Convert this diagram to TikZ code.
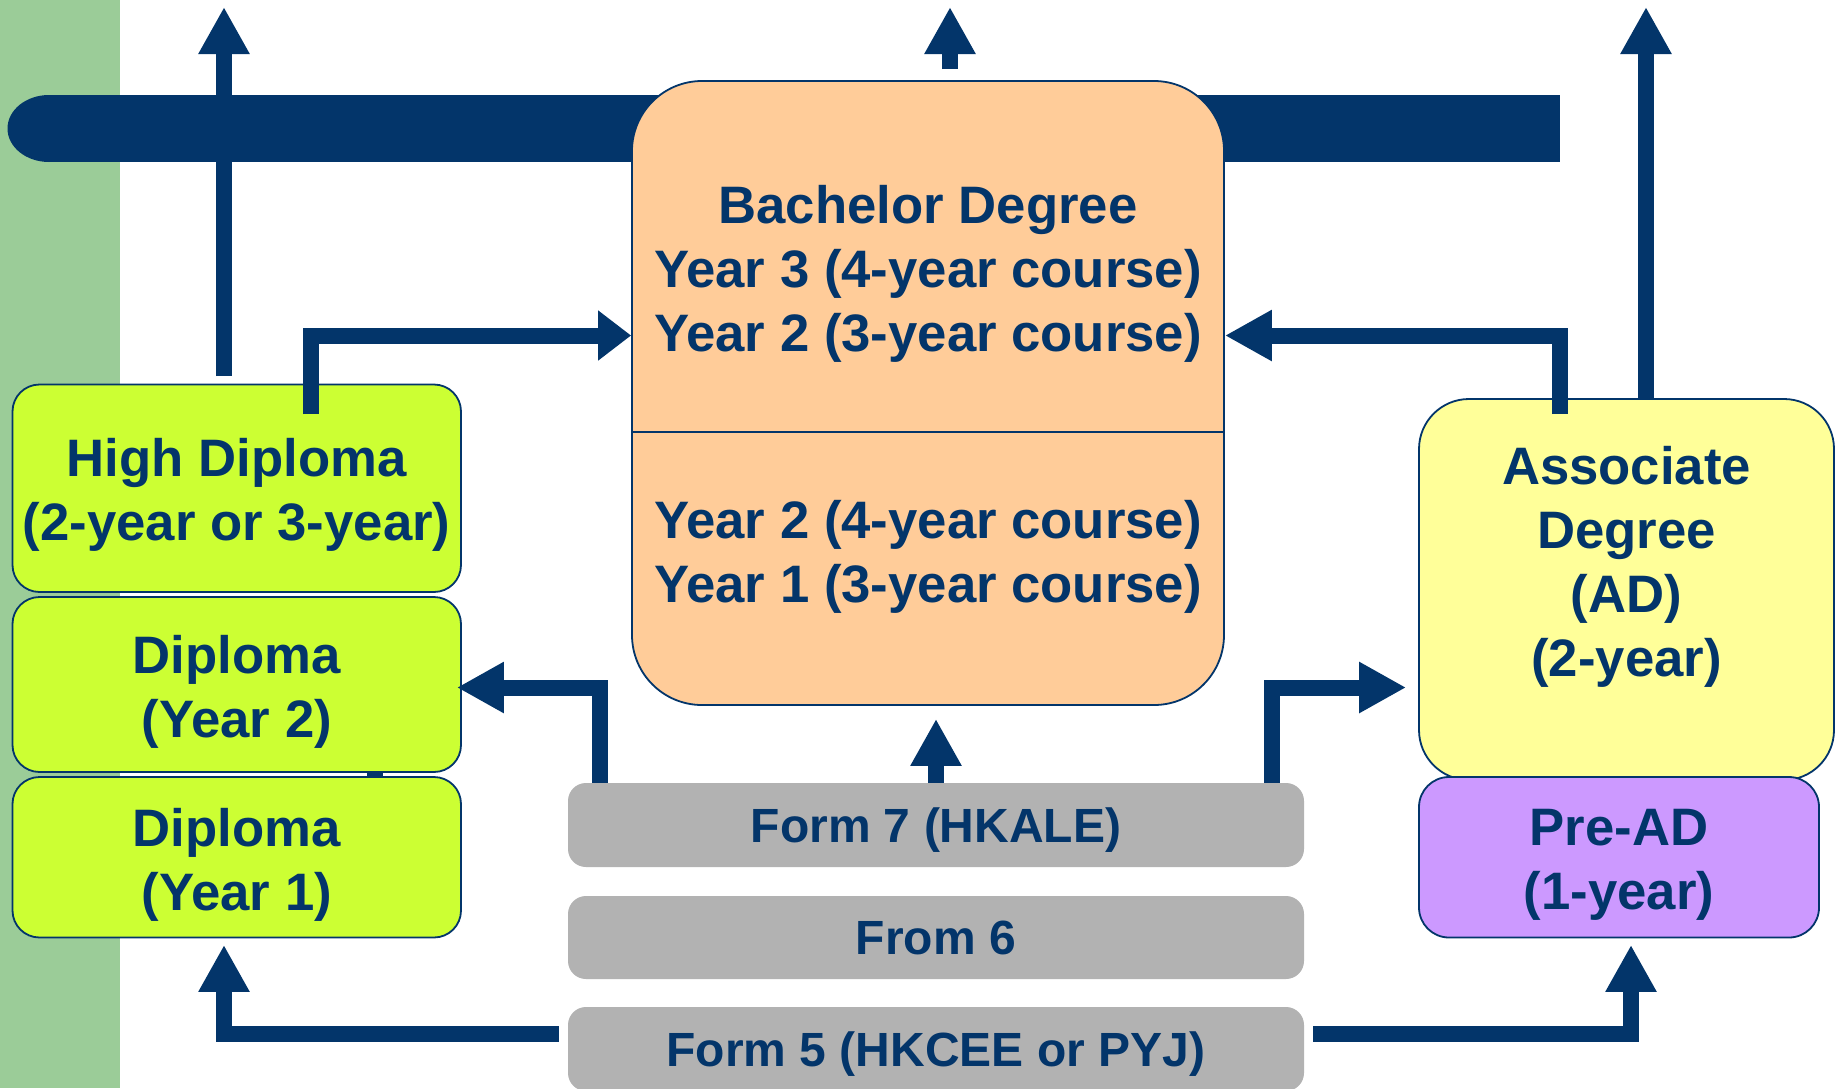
\documentclass[tikz,border=0pt]{standalone}
\usepackage{fontspec}
\setmainfont{Liberation Sans}
\usetikzlibrary{arrows.meta,calc}
\definecolor{navy}{HTML}{03356A}
\definecolor{stripgreen}{HTML}{9BCC98}
\definecolor{limefill}{HTML}{CCFF33}
\definecolor{peach}{HTML}{FFCC99}
\definecolor{paleyellow}{HTML}{FFFF99}
\definecolor{lilac}{HTML}{CC99FF}
\definecolor{greybox}{HTML}{B2B2B2}
\begin{document}
\begin{tikzpicture}[x=1pt,y=-1pt,
  box/.style={draw=navy,line width=1.8pt,rounded corners=27pt,inner sep=0pt},
  greyb/.style={fill=greybox,rounded corners=18pt,inner sep=0pt,minimum width=736pt},
  txt/.style={text=navy,font=\fontsize{52.7}{64}\selectfont\bfseries,align=center,inner sep=0pt},
  ftxt/.style={text=navy,font=\fontsize{48}{58}\selectfont\bfseries,align=center,inner sep=0pt},
  conn/.style={draw=navy,line width=16pt,line join=miter},
  arr/.style={-{Triangle[width=48pt,length=47pt]}},
  arrshort/.style={-{Triangle[width=48pt,length=33pt]}}
]
\useasboundingbox (0,0) rectangle (1836,1088);
\fill[white] (0,0) rectangle (1836,1088);
\fill[stripgreen] (0,0) rectangle (120,1088);
% top bar
\fill[navy] (49,95) rectangle (1560,162);
\fill[navy] (49,128.5) ellipse [x radius=41.5pt, y radius=33.5pt];

% boxes
\node[box,fill=peach,rounded corners=70pt,minimum width=592pt,minimum height=624pt] (bach) at (928,393) {};
\coordinate (div) at (928,432);
\draw[navy,line width=1.8pt] (bach.west |- div) -- (bach.east |- div);

\node[box,fill=limefill,minimum width=448.5pt,minimum height=207.5pt] (hd) at (236.75,488.25) {};
\node[box,fill=limefill,minimum width=448.5pt,minimum height=175pt] (dtwo) at (236.75,684.5) {};
\node[box,fill=limefill,minimum width=448.5pt,minimum height=160.5pt] (done) at (236.75,857.25) {};
\node[box,fill=paleyellow,rounded corners=50pt,minimum width=415pt,minimum height=381pt] (ad) at (1626.5,589.5) {};
\node[box,fill=lilac,rounded corners=30pt,minimum width=400pt,minimum height=160.5pt] (pread) at (1619,857.25) {};

\node[greyb,minimum height=84pt] (fseven) at (936,825) {};
\node[greyb,minimum height=83pt] (fsix) at (936,937.5) {};
\node[greyb,minimum height=84pt] (ffive) at (936,1049) {};

% texts
\node[txt] (bacht) at ($(bach.center)+(0,-119)$) {Bachelor Degree\\Year 3 (4-year course)\\Year 2 (3-year course)};
\node[txt] (bachb) at ($(bach.center)+(0,164)$) {Year 2 (4-year course)\\Year 1 (3-year course)};
\node[txt] (hdt) at ($(hd.center)+(0,7)$) {High Diploma\\(2-year or 3-year)};
\node[txt] (dtwot) at ($(dtwo.center)+(0,7)$) {Diploma\\(Year 2)};
\node[txt] (donet) at ($(done.center)+(0,7.5)$) {Diploma\\(Year 1)};
\node[txt] (adt) at ($(ad.center)+(0,-22.7)$) {Associate\\Degree\\(AD)\\(2-year)};
\node[txt] (preadt) at ($(pread.center)+(0,7.5)$) {Pre-AD\\(1-year)};
\node[ftxt] (fsevent) at ($(fseven.center)+(0,5.5)$) {Form 7 (HKALE)};
\node[ftxt] (fsixt) at (fsix.center) {From 6};
\node[ftxt] (ffivet) at ($(ffive.center)+(0,5.5)$) {Form 5 (HKCEE or PYJ)};

% connectors
\coordinate (topL) at (224,7);
\coordinate (topM) at (950,7);
\coordinate (topR) at (1646,7);
\draw[conn,arr] ($(hd.north -| topL)+(0,-7.5)$) -- (topL);
\draw[conn,arr] ($(bach.north -| topM)+(0,-11)$) -- (topM);
\draw[conn,arr] (ad.north -| topR) -- (topR);
\draw[conn,arrshort] ($(hd.north)+(74.6,30.5)$) |- ($(bach.west)+(0,-57.5)$);
\draw[conn,arr] ($(ad.north)+(-66.5,16)$) |- ($(bach.east)+(0,-57.5)$);
\draw[conn,arr] (fseven.north) -- ($(fseven.north |- bach.south)+(0,13)$);
\draw[conn,arr] ($(fseven.north west)+(32,0)$) |- ($(dtwo.east)+(-5,3)$);
\draw[conn,arr] ($(fseven.north east)+(-32.5,0)$) |- ($(ad.west)+(-12,98)$);
\draw[conn,arr] ($(ffive.west)+(-9,-15)$) -| ($(done.south)+(-12.75,6.5)$);
\draw[conn,arr] ($(ffive.east)+(9,-15)$) -| ($(pread.south)+(12,6.5)$);
\draw[conn] ($(done.north)+(138,0)$) -- ($(dtwo.south)+(138,0)$);
\end{tikzpicture}
\end{document}
